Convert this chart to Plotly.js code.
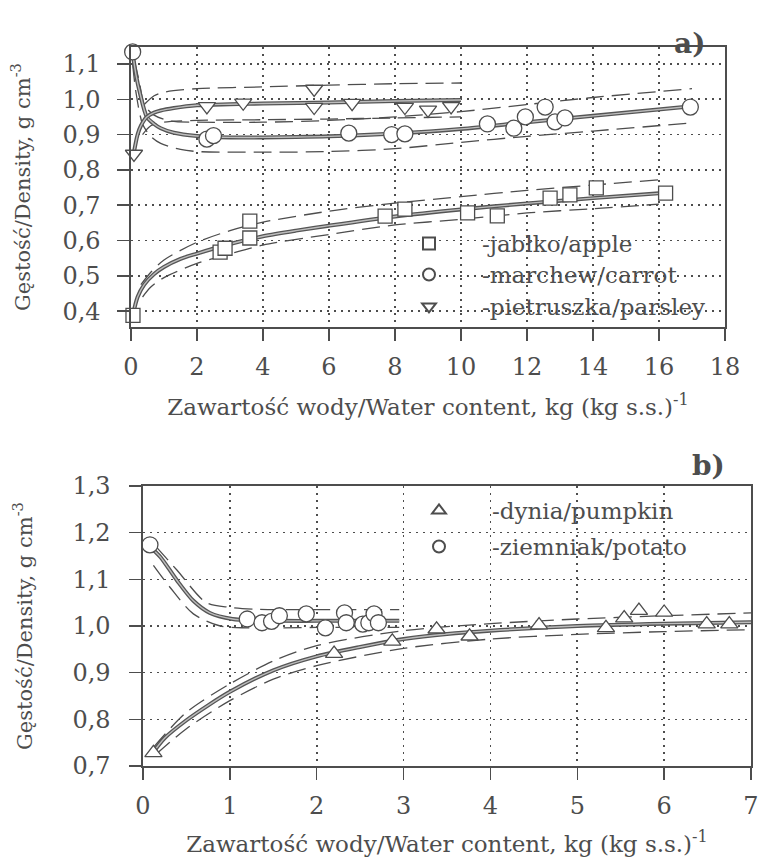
<!DOCTYPE html>
<html>
<head>
<meta charset="utf-8">
<script src="https://cdn.plot.ly/plotly-3.0.1.min.js"></script>
<style>
html,body{margin:0;padding:0;background:#fff}
#chart{width:760px;height:857px}
</style>
</head>
<body>
<div id="chart"></div>
<script>
// ---------- panel a) measured points ----------
const appleX = [0.06, 2.7, 2.85, 3.6, 3.6, 7.7, 8.3, 10.2, 11.1, 12.7, 13.3, 14.1, 16.2];
const appleY = [0.388, 0.567, 0.578, 0.655, 0.607, 0.669, 0.689, 0.678, 0.670, 0.720, 0.729, 0.749, 0.734];
const carrotX = [0.05, 2.3, 2.5, 6.6, 7.9, 8.3, 10.8, 11.6, 11.95, 12.55, 12.85, 13.15, 16.95];
const carrotY = [1.134, 0.887, 0.897, 0.904, 0.900, 0.902, 0.930, 0.918, 0.950, 0.978, 0.936, 0.947, 0.978];
const parsleyX = [0.09, 2.3, 3.4, 5.55, 5.55, 6.7, 8.3, 9.0, 9.7];
const parsleyY = [0.845, 0.980, 0.990, 1.029, 0.978, 0.989, 0.978, 0.970, 0.980];

// ---------- panel a) fitted curves and bands (read from picture) ----------
const appleFitX = [0.06, 0.2, 0.4, 0.7, 1, 1.5, 2, 3, 4, 5, 6, 8, 10, 12, 14, 16.2];
const appleFitY = [0.39, 0.44, 0.475, 0.505, 0.525, 0.548, 0.563, 0.59, 0.612, 0.628, 0.642, 0.668, 0.688, 0.705, 0.72, 0.735];
const appleUpX = [0.3, 0.6, 1, 2, 3, 4, 6, 8, 10, 12, 14, 16];
const appleUpY = [0.475, 0.51, 0.545, 0.595, 0.628, 0.652, 0.683, 0.706, 0.724, 0.742, 0.757, 0.772];
const appleLoX = [0.35, 0.6, 1, 2, 3, 4, 6, 8, 10, 12, 14, 16];
const appleLoY = [0.44, 0.468, 0.495, 0.535, 0.562, 0.587, 0.617, 0.644, 0.66, 0.678, 0.69, 0.703];

const carrotFitX = [0.05, 0.15, 0.27, 0.48, 0.7, 0.9, 1.3, 2, 3, 4, 5, 6, 8, 10, 12, 14, 17];
const carrotFitY = [1.13, 1.07, 1.018, 0.95, 0.93, 0.918, 0.905, 0.896, 0.892, 0.892, 0.893, 0.895, 0.903, 0.916, 0.935, 0.953, 0.98];
const carrotUpX = [0.1, 0.25, 0.4, 0.7, 1.2, 2, 4, 6, 8, 10, 12, 14, 17];
const carrotUpY = [1.11, 1.05, 0.985, 0.955, 0.938, 0.935, 0.935, 0.94, 0.95, 0.965, 0.985, 1.005, 1.03];
const carrotLoX = [0.05, 0.15, 0.35, 0.6, 0.9, 1.5, 2, 4, 6, 8, 10, 12, 14, 17];
const carrotLoY = [1.1, 1.02, 0.93, 0.895, 0.875, 0.858, 0.852, 0.85, 0.852, 0.86, 0.878, 0.895, 0.91, 0.933];

const parsleyFitX = [0.09, 0.2, 0.3, 0.48, 0.7, 0.9, 1.3, 2, 3, 4, 6, 8, 10];
const parsleyFitY = [0.85, 0.9, 0.925, 0.95, 0.962, 0.968, 0.975, 0.983, 0.986, 0.988, 0.991, 0.995, 0.998];
const parsleyUpX = [0.4, 0.7, 1, 2, 4, 6, 8, 10];
const parsleyUpY = [0.985, 1.01, 1.02, 1.03, 1.035, 1.04, 1.044, 1.046];
const parsleyLoX = [0.35, 0.6, 1, 2, 4, 6, 8, 10];
const parsleyLoY = [0.9, 0.925, 0.935, 0.94, 0.942, 0.944, 0.947, 0.95];

// ---------- panel b) measured points ----------
const pumpkinX = [0.12, 2.2, 2.87, 3.38, 3.76, 4.56, 5.33, 5.54, 5.71, 6.0, 6.49, 6.75];
const pumpkinY = [0.728, 0.941, 0.967, 0.993, 0.978, 1.002, 0.996, 1.017, 1.033, 1.029, 1.004, 1.004];
const potatoX = [0.08, 1.2, 1.37, 1.48, 1.57, 1.88, 2.1, 2.32, 2.34, 2.53, 2.6, 2.66, 2.71];
const potatoY = [1.174, 1.015, 1.007, 1.01, 1.022, 1.026, 0.996, 1.028, 1.007, 1.004, 1.007, 1.026, 1.007];

// ---------- panel b) fitted curves and bands ----------
const pumpkinFitX = [0.12, 0.25, 0.5, 0.75, 1, 1.5, 2, 2.5, 3, 3.5, 4, 5, 6, 7];
const pumpkinFitY = [0.73, 0.76, 0.798, 0.83, 0.859, 0.905, 0.935, 0.955, 0.972, 0.983, 0.99, 1.0, 1.005, 1.008];
const pumpkinUpX = [0.12, 0.5, 1, 1.5, 2, 3, 4, 5, 6, 7];
const pumpkinUpY = [0.74, 0.815, 0.876, 0.925, 0.958, 0.99, 1.005, 1.015, 1.022, 1.028];
const pumpkinLoX = [0.15, 0.5, 1, 1.5, 2, 3, 4, 5, 6, 7];
const pumpkinLoY = [0.725, 0.78, 0.84, 0.886, 0.915, 0.952, 0.972, 0.982, 0.988, 0.992];

const potatoFitX = [0.08, 0.2, 0.39, 0.58, 0.77, 1.03, 1.3, 1.6, 2, 2.5, 2.95];
const potatoFitY = [1.17, 1.148, 1.098, 1.054, 1.028, 1.015, 1.012, 1.011, 1.011, 1.011, 1.011];
const potatoUpX = [0.15, 0.39, 0.73, 1.0, 1.3, 1.6, 2, 2.5, 2.95];
const potatoUpY = [1.17, 1.12, 1.05, 1.04, 1.036, 1.035, 1.035, 1.035, 1.035];
const potatoLoX = [0.12, 0.31, 0.58, 0.89, 1.2, 1.6, 2, 2.5, 2.95];
const potatoLoY = [1.13, 1.083, 1.026, 1.0, 0.996, 0.996, 0.997, 0.997, 0.997];

// ---------- labels ----------
const xTitle = 'Zawartość wody/Water content, kg (kg s.s.)<sup>-1</sup>';
const yTitle = 'Gęstość/Density, g cm<sup>-3</sup>';
const nameApple = '-jabłko/apple';
const nameCarrot = '-marchew/carrot';
const nameParsley = '-pietruszka/parsley';
const namePumpkin = '-dynia/pumpkin';
const namePotato = '-ziemniak/potato';

const FONT = 'DejaVu Serif, Liberation Serif, serif';
const INK = '#4d4d4d';

function band(x, y, xa, ya) {
  return {x, y, xaxis: xa, yaxis: ya, mode: 'lines', showlegend: false, hoverinfo: 'skip',
    line: {color: INK, width: 1.3, dash: '18px,8px', shape: 'spline', smoothing: 0.8}};
}
function fitLines(x, y, xa, ya) {
  return [
    {x, y, xaxis: xa, yaxis: ya, mode: 'lines', showlegend: false, hoverinfo: 'skip',
      line: {color: '#555', width: 4, shape: 'spline', smoothing: 0.8}},
    {x, y, xaxis: xa, yaxis: ya, mode: 'lines', showlegend: false, hoverinfo: 'skip',
      line: {color: '#bdbdbd', width: 1.4, shape: 'spline', smoothing: 0.8}}
  ];
}
function pts(x, y, xa, ya, name, symbol, size, legend) {
  return {x, y, xaxis: xa, yaxis: ya, name, mode: 'markers', cliponaxis: false, legend,
    marker: {symbol, size, color: '#ffffff', line: {color: INK, width: 1.3}}};
}

const traces = [
  band(appleUpX, appleUpY, 'x', 'y'), band(appleLoX, appleLoY, 'x', 'y'),
  band(carrotUpX, carrotUpY, 'x', 'y'), band(carrotLoX, carrotLoY, 'x', 'y'),
  band(parsleyUpX, parsleyUpY, 'x', 'y'), band(parsleyLoX, parsleyLoY, 'x', 'y'),
  ...fitLines(appleFitX, appleFitY, 'x', 'y'),
  ...fitLines(carrotFitX, carrotFitY, 'x', 'y'),
  ...fitLines(parsleyFitX, parsleyFitY, 'x', 'y'),
  pts(appleX, appleY, 'x', 'y', nameApple, 'square', 14, 'legend'),
  pts(carrotX, carrotY, 'x', 'y', nameCarrot, 'circle', 16, 'legend2'),
  pts(parsleyX, parsleyY, 'x', 'y', nameParsley, 'triangle-down', 15, 'legend3'),

  band(pumpkinUpX, pumpkinUpY, 'x2', 'y2'), band(pumpkinLoX, pumpkinLoY, 'x2', 'y2'),
  band(potatoUpX, potatoUpY, 'x2', 'y2'), band(potatoLoX, potatoLoY, 'x2', 'y2'),
  ...fitLines(pumpkinFitX, pumpkinFitY, 'x2', 'y2'),
  ...fitLines(potatoFitX, potatoFitY, 'x2', 'y2'),
  pts(pumpkinX, pumpkinY, 'x2', 'y2', namePumpkin, 'triangle-up', 15, 'legend4'),
  pts(potatoX, potatoY, 'x2', 'y2', namePotato, 'circle', 16, 'legend5')
];

const W = 760, H = 857;
const px = v => v / W, py = v => 1 - v / H;

const axisBase = {
  showline: true, mirror: true, linecolor: INK, linewidth: 1.6,
  ticks: 'outside', ticklen: 12, tickwidth: 1.5, tickcolor: INK,
  showgrid: true, gridcolor: INK, gridwidth: 1.6, griddash: '2px,5px',
  zeroline: false, tickfont: {family: FONT, size: 24, color: INK},
  automargin: false
};

function leg(xPix, yPix) {
  return {x: px(xPix), y: py(yPix), xanchor: 'left', yanchor: 'top', bgcolor: 'rgba(0,0,0,0)',
    font: {family: FONT, size: 23, color: INK}, itemsizing: 'constant', itemwidth: 96};
}

const layout = {
  width: W, height: H,
  margin: {l: 0, r: 0, t: 0, b: 0},
  paper_bgcolor: '#fff', plot_bgcolor: '#fff',
  separators: ', ',
  font: {family: FONT, color: INK},
  showlegend: true,
  xaxis: Object.assign({}, axisBase, {domain: [px(131), px(725)], range: [0, 18], dtick: 2, tick0: 0, anchor: 'y',
    ticklabelstandoff: 6,
    title: {text: xTitle, font: {family: FONT, size: 23, color: INK}, standoff: 18}}),
  yaxis: Object.assign({}, axisBase, {domain: [py(327), py(47)], range: [0.355, 1.148], dtick: 0.1, tick0: 0.4, tickformat: '.1f', anchor: 'x',
    ticklabelstandoff: 12,
    title: {text: yTitle, font: {family: FONT, size: 21, color: INK}, standoff: 26}}),
  xaxis2: Object.assign({}, axisBase, {domain: [px(143), px(751)], range: [0, 7], dtick: 1, tick0: 0, anchor: 'y2',
    ticklabelstandoff: 6,
    title: {text: xTitle, font: {family: FONT, size: 23, color: INK}, standoff: 24}}),
  yaxis2: Object.assign({}, axisBase, {domain: [py(766), py(486)], range: [0.7, 1.3], dtick: 0.1, tick0: 0.7, tickformat: '.1f', anchor: 'x2',
    ticklabelstandoff: 14,
    title: {text: yTitle, font: {family: FONT, size: 21, color: INK}, standoff: 34}}),
  legend: leg(376, 222),
  legend2: leg(376, 253),
  legend3: leg(376, 285),
  legend4: leg(386, 489),
  legend5: leg(386, 525),
  annotations: [
    {text: '<b>a)</b>', xref: 'paper', yref: 'paper', x: px(707), y: py(25), showarrow: false,
      font: {family: FONT, size: 28, color: INK}},
    {text: '<b>b)</b>', xref: 'paper', yref: 'paper', x: px(727), y: py(465), showarrow: false,
      font: {family: FONT, size: 28, color: INK}}
  ]
};

Plotly.newPlot('chart', traces, layout, {displayModeBar: false, staticPlot: true});
</script>
</body>
</html>
